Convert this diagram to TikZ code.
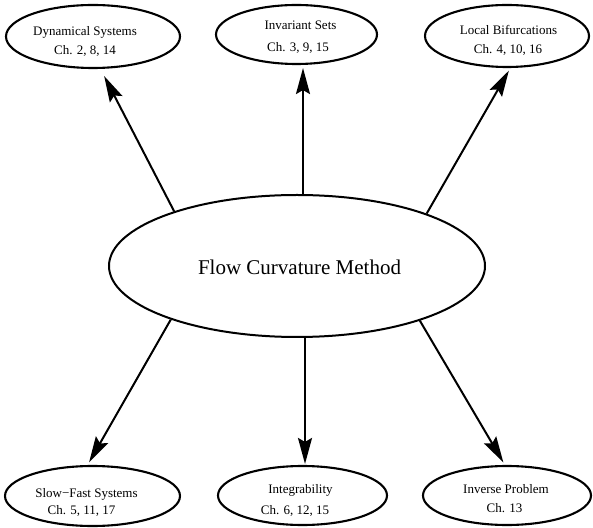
\documentclass[tikz,border=0pt]{standalone}
\usepackage{fontspec}
\setmainfont{Liberation Serif}
\usetikzlibrary{shapes.geometric,arrows.meta}
\tikzset{
  bub/.style={draw, ellipse, line width=2.1pt, inner sep=0pt},
  lbl/.style={anchor=base, inner sep=0pt, font=\fontsize{13}{16}\selectfont},
  arr/.style={line width=2pt, -{Stealth[length=26pt,width=14pt,inset=4pt]}},
}
\begin{document}
\begin{tikzpicture}[x=1pt,y=1pt]
\useasboundingbox (0,0) rectangle (593,527);
% central
\node[bub, line width=2pt, minimum width=376pt, minimum height=142pt] (c) at (297,261) {};
\node[anchor=base, inner sep=0pt, font=\fontsize{21}{25}\selectfont] (ct) at (299.5,252.7) {Flow Curvature Method};
% top row
\node[bub, minimum width=174pt, minimum height=63pt] (tl) at (93,490.5) {};
\node[bub, minimum width=161pt, minimum height=59pt] (tm) at (296.5,492.5) {};
\node[bub, minimum width=164pt, minimum height=62pt] (tr) at (507,491) {};
% bottom row
\node[bub, minimum width=175pt, minimum height=60pt] (bl) at (92.5,31) {};
\node[bub, minimum width=169pt, minimum height=59pt] (bm) at (302.5,31.5) {};
\node[bub, minimum width=168pt, minimum height=59pt] (br) at (507,31.5) {};
% labels
\node[lbl] (tl1) at (85,491) {Dynamical Systems};
\node[lbl] (tl2) at (85,472) {Ch. 2, 8, 14};
\node[lbl] (tm1) at (300.5,497) {Invariant Sets};
\node[lbl] (tm2) at (298,475.5) {Ch. 3, 9, 15};
\node[lbl] (tr1) at (508.5,492) {Local Bifurcations};
\node[lbl] (tr2) at (508,473.5) {Ch. 4, 10, 16};
\node[lbl] (bl1) at (86.5,30) {Slow−Fast Systems};
\node[lbl] (bl2) at (81.5,13) {Ch. 5, 11, 17};
\node[lbl] (bm1) at (300.5,34) {Integrability};
\node[lbl] (bm2) at (295,13) {Ch. 6, 12, 15};
\node[lbl] (br1) at (506,34) {Inverse Problem};
\node[lbl] (br2) at (504.5,15) {Ch. 13};
% arrows
\draw[arr, shorten >=8pt] (c.156.6) -- (tl.-77.7);
\draw[arr, shorten >=3pt] ([xshift=6pt]c.north) -- ([xshift=6.5pt]tm.south);
\draw[arr, shorten >=3pt] (c.22) -- (tr.-84.5);
\draw[arr, shorten >=3pt] (c.203.4) -- (bl.99);
\draw[arr, shorten >=1pt] ([xshift=8pt]c.south) -- ([xshift=2.5pt]bm.north);
\draw[arr, shorten >=3pt] (c.336.6) -- (br.94);
\end{tikzpicture}
\end{document}
